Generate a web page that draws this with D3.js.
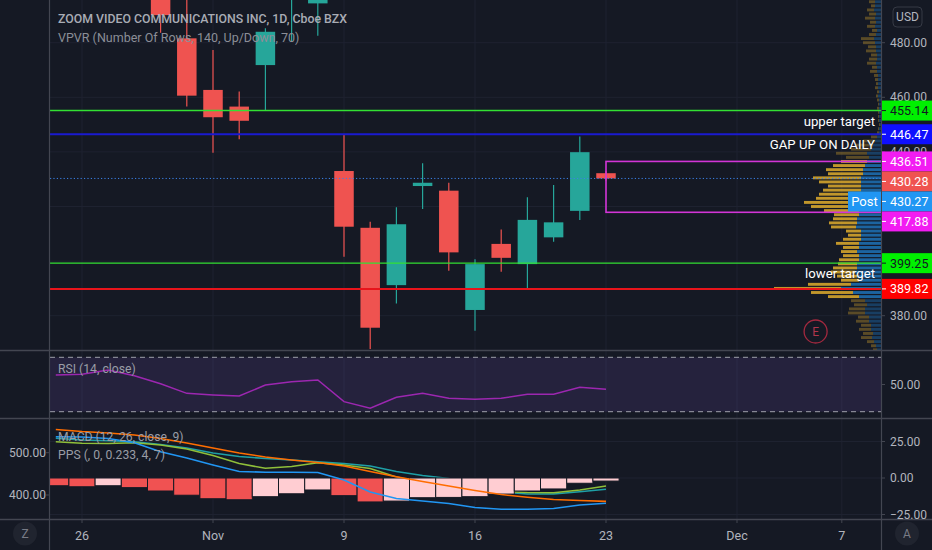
<!DOCTYPE html>
<html>
<head>
<meta charset="utf-8">
<script src="https://cdn.jsdelivr.net/npm/d3@7"></script>
<style>
  html, body { margin: 0; padding: 0; background: #151924; overflow: hidden; }
  svg { display: block; font-family: Roboto, "Noto Sans", sans-serif; }
</style>
</head>
<body>
<div id="chart"></div>
<script>
// Trading days on the time axis (the last ones are still in the future)
const days = ["2020-10-23","2020-10-26","2020-10-27","2020-10-28","2020-10-29","2020-10-30",
  "2020-11-02","2020-11-03","2020-11-04","2020-11-05","2020-11-06",
  "2020-11-09","2020-11-10","2020-11-11","2020-11-12","2020-11-13",
  "2020-11-16","2020-11-17","2020-11-18","2020-11-19","2020-11-20",
  "2020-11-23","2020-11-24","2020-11-25","2020-11-27","2020-11-30",
  "2020-12-01","2020-12-02","2020-12-03","2020-12-04","2020-12-07"]

// OHLC (one per bar, starting at days[0])
const open  = [530, 520, 530, 532, 506, 481.6, 462.7, 456.6, 471.8, 497, 494.4, 433.0, 412.2, 391.2, 427.5, 425.8, 382.1, 406.3, 398.9, 408.7, 418.4, 432.2]
const high  = [538, 535, 545, 536, 515, 500, 477.3, 462.1, 485.3, 508, 505, 446.2, 414.4, 419.7, 435.8, 428.7, 400.7, 411.6, 423.4, 427.9, 445.6, 433.0]
const low   = [518, 508, 522, 500, 483.6, 456.6, 439.7, 444.6, 455.3, 480.4, 482.5, 401.6, 367.8, 384.5, 419.1, 396.5, 374.5, 396.1, 389.7, 407.1, 415.1, 429.5]
const close = [522, 528, 538, 505, 490.1, 460.6, 452.7, 451.4, 484.0, 503, 499, 412.6, 375.6, 413.5, 428.7, 403.2, 398.9, 401.2, 415.1, 414.2, 439.9, 430.28]

// RSI (14, close)
const rsi = [57.0, 57.5, 60.7, 56.5, 50.5, 43.5, 42.3, 41.5, 49.6, 52.1, 53.3, 37.4, 32.5, 40.6, 43.5, 39.9, 39.1, 39.9, 42.8, 42.8, 47.9, 46.5]

// MACD (12, 26, close, 9)
const macdLine   = [28.3, 28.1, 27.1, 24.2, 18.0, 13.7, 8.9, 4.5, 3.9, 3.9, 3.8, -1.4, -9.6, -14.0, -15.8, -17.5, -20.2, -21.4, -21.4, -20.9, -18.5, -17.3]
const signalLine = [33.2, 31.8, 30.8, 29.5, 27.1, 24.0, 20.5, 17.1, 14.4, 12.3, 10.6, 8.2, 4.5, 0.9, -2.4, -5.5, -8.6, -11.3, -13.2, -14.7, -15.4, -16.0]
const histogram  = [-5.3, -6.0, -5.3, -6.6, -8.9, -11.8, -14.2, -14.9, -12.8, -10.8, -8.2, -12.1, -16.4, -15.8, -13.5, -13.3, -12.8, -11.0, -8.9, -7.5, -3.6, -2.1]

// PPS (, 0, 0.233, 4, 7) - two price lines on the left scale
const ppsFast = [526.0, 522.2, 521.7, 523.6, 518.2, 508.7, 493.4, 474.5, 463.1, 467.4, 476.1, 470.9, 462.6, 442.6, 430.7, 421.3, 413.0, 408.3, 405.9, 405.4, 411.8, 421.3]
const ppsSlow = [534.0, 530.0, 528.1, 526.0, 519.4, 511.1, 499.3, 491.0, 486.3, 482.7, 478.7, 474.5, 468.6, 455.6, 446.1, 439.0, 423.6, 407.1, 402.4, 402.4, 407.6, 413.5]

// VPVR rows, from the top row (vpTop) down, vpStep apart
const vpTop = 495
const vpStep = 1.5
const vpUp = [6,6,7,5,6,5,6,4,5,7,6,5,5,4,4,5,4,4,3,3,3,3,2,3,2,2,2,2,2,2,1,2,2,
  4,6,8,10,14,12,14,16,18,18,20,20,20,20,22,22,24,22,22,22,24,24,25,20,20,20,22,22,24,22,22,24,24,26,24,22,30,40,28,22,
  16,14,16,16,12,12,10,10,8,9,7,5,4]
const vpDown = [6,4,7,7,10,6,8,5,7,13,12,8,10,6,8,9,5,7,4,3,2,3,2,2,2,1,2,1,1,1,1,1,2,
  6,12,17,20,31,23,26,32,37,35,48,42,33,38,40,43,53,48,35,25,24,28,25,15,13,18,23,16,16,16,20,19,24,24,20,18,43,67,42,31,
  14,13,16,17,11,13,10,12,10,11,7,5,4]

// Drawn levels and notes
const levels = [455.14, 446.47, 399.25, 389.82]
const levelNotes = ["upper target", "GAP UP ON DAILY", "lower target", ""]
const zoneTop = 436.51
const zoneBottom = 417.88
const zoneStart = "2020-11-23"
const lastPrice = 430.28
const postPrice = 430.27
const earningsDay = "2020-12-04"

// Axis ticks
const priceTicks = [380, 400, 420, 440, 460, 480]
const rsiTicks = [50]
const macdTicks = [25, 0, -25]
const ppsTicks = [400, 500]
const dateTickDays = ["2020-10-26", "2020-11-02", "2020-11-09", "2020-11-16", "2020-11-23", "2020-12-01", "2020-12-07"]
const dateTickLabels = ["26", "Nov", "9", "16", "23", "Dec", "7"]

// ---------------------------------------------------------------
const width = 932, height = 550
const L = 50, R = 881
const mainP = [0, 350], rsiP = [351, 418], macdP = [419, 519]

const bg = "#151924"
const grid = "#1e2230"
const sep = "#434651"
const axisText = "#b2b5be"
const legendText = "#9a9da6"
const upC = "#26a69a", downC = "#ef5350"

// level styles (same order as levels)
const levelLine = ["#33e033", "#1a1ad0", "#33e033", "#e8141b"]
const levelBox  = ["#00f000", "#0f0fff", "#00f000", "#ff0000"]
const levelText = ["#131722", "#ffffff", "#131722", "#ffffff"]

const svg = d3.select("#chart")
    .append("svg")
    .attr("width", width)
    .attr("height", height)

svg.append("rect").attr("width", width).attr("height", height).attr("fill", bg)

const dayIndex = d => days.indexOf(d)

// Escalas
const x = d3.scaleLinear().domain([0, days.length - 1]).range([55.8, 841.8])
const yMain = d3.scaleLinear().domain([367.44, 495.64]).range([mainP[1], mainP[0]])
const yRsi = d3.scaleLinear().domain([30, 70]).range([411.7, 357.3])
const yMacd = d3.scaleLinear().domain([-25, 25]).range([514.5, 441.5])
const yPps = d3.scaleLinear().domain([400, 500]).range([495, 452.7])

// clip paths per pane
const defs = svg.append("defs")
const clip = (id, y0, y1, x0 = L, x1 = R) => {
    defs.append("clipPath").attr("id", id)
        .append("rect").attr("x", x0).attr("y", y0).attr("width", x1 - x0).attr("height", y1 - y0)
    return `url(#${id})`
}
const gMain = svg.append("g").attr("clip-path", clip("cMain", mainP[0], mainP[1]))
const gRsi = svg.append("g").attr("clip-path", clip("cRsi", rsiP[0], rsiP[1]))
const gMacd = svg.append("g").attr("clip-path", clip("cMacd", macdP[0], macdP[1]))

// Grid
const gridDays = dateTickDays.map(dayIndex)
;[[gMain, mainP], [gRsi, rsiP], [gMacd, macdP]].forEach(([g, p]) => {
    g.selectAll(null).data(gridDays).join("line")
        .attr("x1", d => x(d)).attr("x2", d => x(d))
        .attr("y1", p[0]).attr("y2", p[1])
        .attr("stroke", grid).attr("stroke-width", 1)
})
gMain.selectAll(null).data(priceTicks).join("line")
    .attr("x1", L).attr("x2", R)
    .attr("y1", d => yMain(d)).attr("y2", d => yMain(d))
    .attr("stroke", grid)
gMacd.selectAll(null).data(macdTicks).join("line")
    .attr("x1", L).attr("x2", R)
    .attr("y1", d => yMacd(d)).attr("y2", d => yMacd(d))
    .attr("stroke", grid)

// ---- Volume profile (VPVR) ----
const vpRows = vpUp.map((u, k) => ({ price: vpTop - k * vpStep, up: u, down: vpDown[k], total: u + vpDown[k] }))
// value area 70% around the point of control
const poc = d3.maxIndex(vpRows, d => d.total)
const vaTarget = d3.sum(vpRows, d => d.total) * 0.7
let lo = poc, hi = poc, vaSum = vpRows[poc].total
while (vaSum < vaTarget && (lo > 0 || hi < vpRows.length - 1)) {
    const above = lo > 0 ? vpRows[lo - 1].total : -1
    const below = hi < vpRows.length - 1 ? vpRows[hi + 1].total : -1
    if (above >= below) { lo--; vaSum += above } else { hi++; vaSum += below }
}
const vpW = d3.scaleLinear().domain([0, d3.max(vpRows, d => d.total)]).range([0, 107])
const rowH = Math.abs(yMain(0) - yMain(vpStep)) - 1.2
const vp = gMain.append("g")
vpRows.forEach((d, k) => {
    const inVA = k >= lo && k <= hi
    const yc = yMain(d.price)
    vp.append("rect")
        .attr("x", R - vpW(d.total)).attr("width", vpW(d.down))
        .attr("y", yc - rowH / 2).attr("height", rowH)
        .attr("fill", inVA ? "rgba(251,192,45,0.75)" : "rgba(251,192,45,0.3)")
    vp.append("rect")
        .attr("x", R - vpW(d.up)).attr("width", vpW(d.up))
        .attr("y", yc - rowH / 2).attr("height", rowH)
        .attr("fill", inVA ? "rgba(33,150,243,0.6)" : "rgba(33,150,243,0.3)")
})

// ---- Candles ----
const bars = open.map((o, i) => ({ i, o, h: high[i], l: low[i], c: close[i] }))
const bw = 19.5
const cg = gMain.append("g")
cg.selectAll("line").data(bars).join("line")
    .attr("x1", d => x(d.i)).attr("x2", d => x(d.i))
    .attr("y1", d => yMain(d.h)).attr("y2", d => yMain(d.l))
    .attr("stroke", d => d.c >= d.o ? upC : downC).attr("stroke-width", 1.2)
cg.selectAll("rect").data(bars).join("rect")
    .attr("x", d => x(d.i) - bw / 2).attr("width", bw)
    .attr("y", d => yMain(Math.max(d.o, d.c)))
    .attr("height", d => Math.max(1.5, Math.abs(yMain(d.o) - yMain(d.c))))
    .attr("fill", d => d.c >= d.o ? upC : downC)

// last price line (dotted)
gMain.append("line")
    .attr("x1", L).attr("x2", R)
    .attr("y1", yMain(lastPrice)).attr("y2", yMain(lastPrice))
    .attr("stroke", "#3b82e8").attr("stroke-width", 1).attr("stroke-dasharray", "1.2,2.2")

// ---- Drawings ----
const zx = x(dayIndex(zoneStart))
gMain.append("rect")
    .attr("x", zx).attr("width", R + 5 - zx)
    .attr("y", yMain(zoneTop)).attr("height", yMain(zoneBottom) - yMain(zoneTop))
    .attr("fill", "none").attr("stroke", "#d235d6").attr("stroke-width", 1.6)

levels.forEach((v, k) => {
    gMain.append("line")
        .attr("x1", L).attr("x2", R)
        .attr("y1", yMain(v)).attr("y2", yMain(v))
        .attr("stroke", levelLine[k]).attr("stroke-width", k % 2 ? 2 : 1.4)
    if (levelNotes[k]) {
        gMain.append("text")
            .attr("x", 875).attr("y", yMain(v) + 10.5)
            .attr("text-anchor", "end").attr("dominant-baseline", "central")
            .attr("fill", "#ffffff").attr("font-size", 13.2)
            .text(levelNotes[k])
    }
})

// Earnings marker
const ex = x(dayIndex(earningsDay))
gMain.append("circle").attr("cx", ex).attr("cy", mainP[1] - 18.5).attr("r", 11.5)
    .attr("fill", "none").attr("stroke", "#a3293f").attr("stroke-width", 1.3)
gMain.append("text").attr("x", ex).attr("y", mainP[1] - 18.5)
    .attr("text-anchor", "middle").attr("dominant-baseline", "central")
    .attr("fill", "#b0364c").attr("font-size", 12).text("E")

// Legend
svg.append("text").attr("x", 58).attr("y", 18.5).attr("dominant-baseline", "central")
    .attr("fill", "#a9acb5").attr("font-size", 12.3).attr("font-weight", 500)
    .text("ZOOM VIDEO COMMUNICATIONS INC, 1D, Cboe BZX")
svg.append("text").attr("x", 58).attr("y", 37).attr("dominant-baseline", "central")
    .attr("fill", "#8b8e97").attr("font-size", 12.5)
    .text("VPVR (Number Of Rows, 140, Up/Down, 70)")

// ---- RSI pane ----
gRsi.append("rect")
    .attr("x", L).attr("width", R - L)
    .attr("y", yRsi(70)).attr("height", yRsi(30) - yRsi(70))
    .attr("fill", "rgba(126,87,194,0.16)")
;[70, 30].forEach(v => gRsi.append("line")
    .attr("x1", L).attr("x2", R).attr("y1", yRsi(v)).attr("y2", yRsi(v))
    .attr("stroke", "#9ea1aa").attr("stroke-dasharray", "5,4"))
gRsi.append("path").datum(rsi)
    .attr("d", d3.line().x((d, i) => x(i)).y(d => yRsi(d)))
    .attr("fill", "none").attr("stroke", "#9c27b0").attr("stroke-width", 1.5)
svg.append("text").attr("x", 58).attr("y", 369).attr("dominant-baseline", "central")
    .attr("fill", legendText).attr("font-size", 12.2).text("RSI (14, close)")

// ---- MACD / PPS pane ----
const lineM = ys => d3.line().x((d, i) => x(i)).y(d => ys(d))
gMacd.append("path").datum(ppsSlow).attr("d", lineM(yPps))
    .attr("fill", "none").attr("stroke", "#1e9fa6").attr("stroke-width", 1.6)
gMacd.append("path").datum(ppsFast).attr("d", lineM(yPps))
    .attr("fill", "none").attr("stroke", "#8fbf3a").attr("stroke-width", 1.6)
gMacd.selectAll("rect.h").data(histogram).join("rect")
    .attr("class", "h")
    .attr("x", (d, i) => x(i) - 13.1).attr("width", 26.2)
    .attr("y", d => yMacd(Math.max(0, d)))
    .attr("height", d => Math.abs(yMacd(d) - yMacd(0)))
    .attr("fill", (d, i) => (i === 0 || d < histogram[i - 1]) ? "#f05252" : "#ffcdd2")
    .attr("stroke", bg).attr("stroke-width", 1)
gMacd.append("path").datum(macdLine).attr("d", lineM(yMacd))
    .attr("fill", "none").attr("stroke", "#2196f3").attr("stroke-width", 1.6)
gMacd.append("path").datum(signalLine).attr("d", lineM(yMacd))
    .attr("fill", "none").attr("stroke", "#ff6d00").attr("stroke-width", 1.6)
svg.append("text").attr("x", 58).attr("y", 437).attr("dominant-baseline", "central")
    .attr("fill", legendText).attr("font-size", 12.2).text("MACD (12, 26, close, 9)")
svg.append("text").attr("x", 58).attr("y", 455).attr("dominant-baseline", "central")
    .attr("fill", legendText).attr("font-size", 12.2).text("PPS (, 0, 0.233, 4, 7)")

// ---- Separators ----
;[mainP[1] + 0.5, rsiP[1] + 0.5, macdP[1] + 0.5].forEach(y => svg.append("line")
    .attr("x1", 0).attr("x2", width).attr("y1", y).attr("y2", y)
    .attr("stroke", sep).attr("stroke-width", 1.5))
;[L - 0.5, R + 0.5].forEach(xx => svg.append("line")
    .attr("x1", xx).attr("x2", xx).attr("y1", 0).attr("y2", height)
    .attr("stroke", sep).attr("stroke-width", 1.2))

// price labels on the right axis, pushed down when they overlap
const tags = levels.map((v, k) => ({ v, box: levelBox[k], txt: levelText[k] }))
    .concat([
        { v: zoneTop, box: "#f21cf2", txt: "#ffffff" },
        { v: zoneBottom, box: "#f21cf2", txt: "#ffffff" },
        { v: lastPrice, box: "#ef5350", txt: "#ffffff" },
        { v: postPrice, box: "#2196f3", txt: "#ffffff", post: true }
    ])
    .sort((a, b) => b.v - a.v || (a.post ? 1 : -1))
let prevY = -Infinity
tags.forEach(t => {
    t.y = Math.max(yMain(t.v), prevY + 20)
    prevY = t.y
})

// ---- Right axis ----
const fmt = d3.format(".2f")
const rightTick = (g, v, y, label = true) => {
    g.append("line").attr("x1", R).attr("x2", R + 4).attr("y1", y).attr("y2", y).attr("stroke", sep)
    if (label) g.append("text").attr("x", 890).attr("y", y).attr("dominant-baseline", "central")
        .attr("fill", axisText).attr("font-size", 12).text(fmt(v).replace("-", "\u2212"))
}
const gAx = svg.append("g").attr("clip-path", clip("cAxM", mainP[0], mainP[1], R + 1, width))
// a tick label sitting right under a price tag is hidden by it
priceTicks.forEach(v => rightTick(gAx, v, yMain(v), !tags.some(t => Math.abs(t.y - yMain(v)) < 9)))
const gAxR = svg.append("g").attr("clip-path", clip("cAxR", rsiP[0], rsiP[1], R + 1, width))
rsiTicks.forEach(v => rightTick(gAxR, v, yRsi(v)))
const gAxM = svg.append("g").attr("clip-path", clip("cAxMa", macdP[0], macdP[1], R + 1, width))
macdTicks.forEach(v => rightTick(gAxM, v, yMacd(v)))

// left axis (PPS)
ppsTicks.forEach(v => {
    svg.append("line").attr("x1", L - 4).attr("x2", L).attr("y1", yPps(v)).attr("y2", yPps(v)).attr("stroke", sep)
    svg.append("text").attr("x", 46).attr("y", yPps(v)).attr("text-anchor", "end")
        .attr("dominant-baseline", "central").attr("fill", axisText).attr("font-size", 12).text(fmt(v))
})

tags.forEach(t => {
    svg.append("rect").attr("x", R + 1).attr("width", width - R - 1)
        .attr("y", t.y - 10).attr("height", 20).attr("fill", t.box)
    svg.append("line").attr("x1", R + 1).attr("x2", R + 5).attr("y1", t.y).attr("y2", t.y)
        .attr("stroke", t.txt).attr("stroke-width", 1)
    svg.append("text").attr("x", 890).attr("y", t.y).attr("dominant-baseline", "central")
        .attr("fill", t.txt).attr("font-size", 12.5).text(fmt(t.v))
    if (t.post) {
        svg.append("rect").attr("x", 848).attr("width", R - 848)
            .attr("y", t.y - 10).attr("height", 20).attr("fill", t.box)
        svg.append("text").attr("x", (848 + R) / 2).attr("y", t.y)
            .attr("text-anchor", "middle").attr("dominant-baseline", "central")
            .attr("fill", "#ffffff").attr("font-size", 13).text("Post")
    }
})

// USD badge
svg.append("rect").attr("x", 893).attr("y", 7).attr("width", 29).attr("height", 20).attr("rx", 4)
    .attr("fill", bg).attr("stroke", "#363a45")
svg.append("text").attr("x", 907.5).attr("y", 17).attr("text-anchor", "middle")
    .attr("dominant-baseline", "central").attr("fill", axisText).attr("font-size", 12).text("USD")

// ---- Time axis ----
dateTickDays.forEach((d, k) => {
    const xx = x(dayIndex(d))
    svg.append("line").attr("x1", xx).attr("x2", xx).attr("y1", macdP[1] + 1).attr("y2", macdP[1] + 4)
        .attr("stroke", sep)
    svg.append("text").attr("x", xx).attr("y", 535.5).attr("text-anchor", "middle")
        .attr("dominant-baseline", "central").attr("fill", axisText).attr("font-size", 12.5)
        .text(dateTickLabels[k])
})

// corner buttons
;[[25, "Z"], [907, "A"]].forEach(([cx, t]) => {
    svg.append("circle").attr("cx", cx).attr("cy", 533.5).attr("r", 12).attr("fill", "#20242f")
    svg.append("text").attr("x", cx).attr("y", 533.5).attr("text-anchor", "middle")
        .attr("dominant-baseline", "central").attr("fill", "#787b86").attr("font-size", 12).text(t)
})
</script>
</body>
</html>
